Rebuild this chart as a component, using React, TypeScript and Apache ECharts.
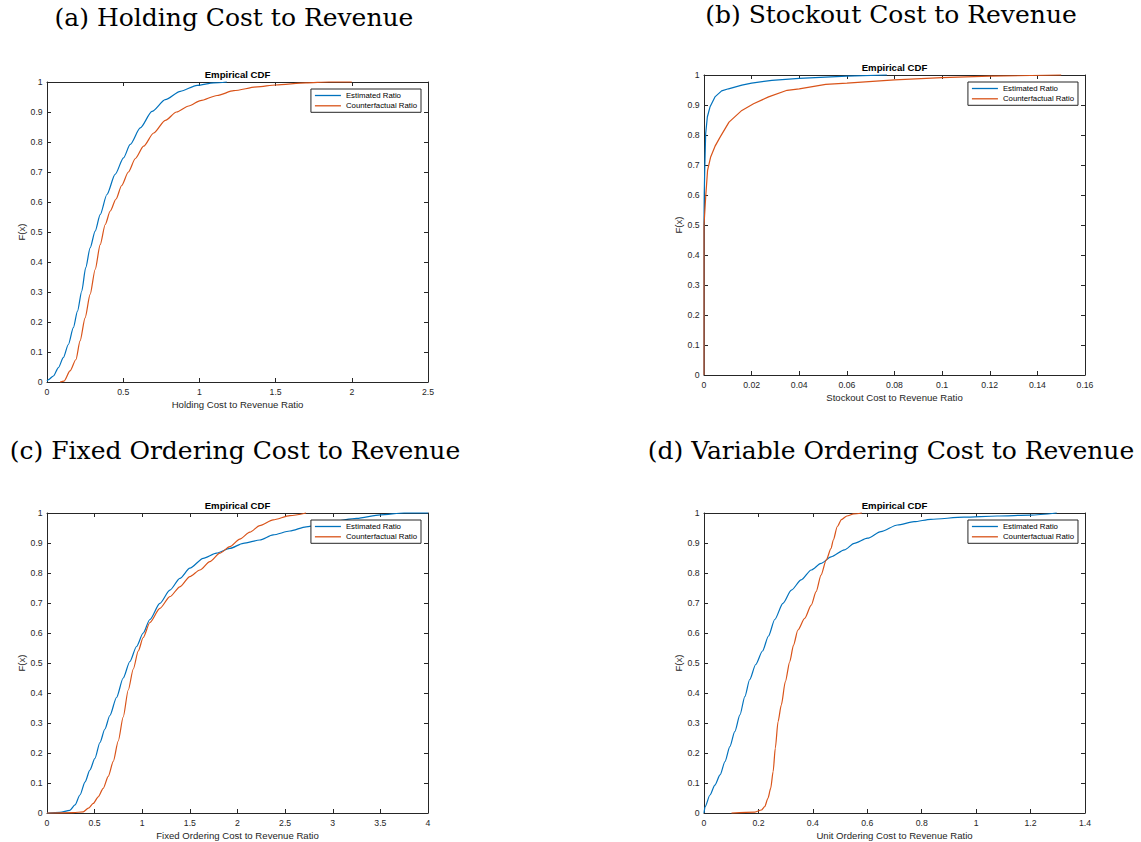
import React, { useEffect, useRef } from "react";
import * as echarts from "echarts";

// ---- Data ----
const seriesNames = ["Estimated Ratio", "Counterfactual Ratio"];
const captions = [
  "(a) Holding Cost to Revenue",
  "(b) Stockout Cost to Revenue",
  "(c) Fixed Ordering Cost to Revenue",
  "(d) Variable Ordering Cost to Revenue",
];
const xAxisNames = [
  "Holding Cost to Revenue Ratio",
  "Stockout Cost to Revenue Ratio",
  "Fixed Ordering Cost to Revenue Ratio",
  "Unit Ordering Cost to Revenue Ratio",
];
const xMaxes = [2.5, 0.16, 4, 1.4];
const xIntervals = [0.5, 0.02, 0.5, 0.2];

const holdingEstimated = [
  [0, 0.003], [0.01, 0.008], [0.042, 0.02], [0.075, 0.048], [0.107, 0.081], [0.14, 0.125],
  [0.173, 0.181], [0.2, 0.236], [0.228, 0.303], [0.254, 0.381], [0.283, 0.447], [0.316, 0.503],
  [0.349, 0.558], [0.393, 0.625], [0.447, 0.692], [0.502, 0.747], [0.546, 0.792], [0.612, 0.847],
  [0.689, 0.902], [0.776, 0.941], [0.875, 0.969], [0.985, 0.989], [1.094, 0.997], [1.18, 1.0],
];
const holdingCounterfactual = [
  [0.086, 0], [0.112, 0.003], [0.151, 0.037], [0.19, 0.075], [0.217, 0.137], [0.25, 0.214],
  [0.283, 0.292], [0.316, 0.375], [0.349, 0.458], [0.382, 0.525], [0.415, 0.57], [0.453, 0.61],
  [0.49, 0.655], [0.534, 0.7], [0.58, 0.745], [0.634, 0.786], [0.7, 0.83], [0.776, 0.872],
  [0.85, 0.9], [0.93, 0.92], [1.007, 0.938], [1.116, 0.955], [1.226, 0.971], [1.38, 0.984],
  [1.5, 0.99], [1.7, 0.997], [1.85, 1.0], [2.0, 1.0],
];
const stockoutEstimated = [
  [0, 0], [0, 0.5], [0.0001, 0.6], [0.0003, 0.682], [0.0007, 0.804], [0.0014, 0.86],
  [0.0025, 0.893], [0.0046, 0.927], [0.0074, 0.947], [0.0103, 0.954], [0.0159, 0.966],
  [0.02, 0.973], [0.0285, 0.982], [0.04, 0.989], [0.06, 0.996], [0.0768, 1.0],
];
const stockoutCounterfactual = [
  [0, 0], [0, 0.5], [0.0007, 0.593], [0.0015, 0.682], [0.0028, 0.727], [0.0046, 0.762],
  [0.0067, 0.792], [0.0105, 0.843], [0.0159, 0.882], [0.0208, 0.904], [0.0271, 0.927],
  [0.0349, 0.949], [0.04, 0.954], [0.0511, 0.969], [0.06, 0.973], [0.08, 0.984],
  [0.1, 0.991], [0.12, 0.996], [0.15, 1.0],
];
const fixedEstimated = [
  [0, 0], [0.136, 0.002], [0.24, 0.009], [0.294, 0.027], [0.346, 0.06], [0.4, 0.104],
  [0.45, 0.143], [0.503, 0.182], [0.556, 0.235], [0.608, 0.28], [0.66, 0.325], [0.73, 0.385],
  [0.8, 0.45], [0.87, 0.505], [0.94, 0.555], [1.01, 0.6], [1.08, 0.645], [1.185, 0.699],
  [1.29, 0.743], [1.395, 0.782], [1.5, 0.816], [1.64, 0.849], [1.78, 0.866], [1.92, 0.882],
  [2.06, 0.899], [2.234, 0.91], [2.374, 0.927], [2.55, 0.94], [2.72, 0.954], [3.0, 0.972],
  [3.25, 0.982], [3.5, 0.994], [3.75, 1.0], [4.0, 1.0],
];
const fixedCounterfactual = [
  [0, 0], [0.276, 0.001], [0.38, 0.004], [0.434, 0.016], [0.486, 0.032], [0.538, 0.054],
  [0.59, 0.082], [0.643, 0.122], [0.696, 0.172], [0.748, 0.24], [0.8, 0.32], [0.853, 0.41],
  [0.906, 0.48], [0.958, 0.54], [1.01, 0.585], [1.08, 0.635], [1.185, 0.682], [1.29, 0.721],
  [1.395, 0.754], [1.5, 0.788], [1.605, 0.81], [1.71, 0.838], [1.815, 0.866], [1.92, 0.888],
  [2.024, 0.913], [2.13, 0.936], [2.234, 0.958], [2.374, 0.977], [2.55, 0.991], [2.72, 1.0],
];
const unitEstimated = [
  [0, 0], [0.004, 0.021], [0.022, 0.06], [0.04, 0.093], [0.059, 0.127], [0.077, 0.171],
  [0.095, 0.221], [0.113, 0.271], [0.132, 0.327], [0.15, 0.388], [0.168, 0.445], [0.19, 0.495],
  [0.215, 0.54], [0.237, 0.59], [0.26, 0.645], [0.29, 0.699], [0.321, 0.743], [0.357, 0.777],
  [0.394, 0.81], [0.43, 0.832], [0.467, 0.854], [0.516, 0.877], [0.552, 0.899], [0.601, 0.916],
  [0.65, 0.938], [0.711, 0.96], [0.772, 0.971], [0.833, 0.979], [0.955, 0.986], [1.077, 0.99],
  [1.2, 0.993], [1.296, 1.0],
];
const unitCounterfactual = [
  [0.101, 0], [0.187, 0.003], [0.211, 0.01], [0.223, 0.021], [0.235, 0.049], [0.245, 0.082],
  [0.254, 0.138], [0.262, 0.216], [0.272, 0.304], [0.284, 0.36], [0.299, 0.438], [0.315, 0.504],
  [0.329, 0.56], [0.345, 0.61], [0.37, 0.649], [0.394, 0.693], [0.412, 0.738], [0.43, 0.793],
  [0.449, 0.843], [0.467, 0.882], [0.475, 0.91], [0.49, 0.955], [0.505, 0.978], [0.525, 0.99],
  [0.55, 0.997], [0.58, 1.0],
];
const estimatedData = [holdingEstimated, stockoutEstimated, fixedEstimated, unitEstimated];
const counterfactualData = [holdingCounterfactual, stockoutCounterfactual, fixedCounterfactual, unitCounterfactual];
const smoothing = [0.25, 0, 0.25, 0.25];

// ---- Layout ----
const grids = [
  { left: 47, top: 82 },
  { left: 704, top: 75 },
  { left: 47, top: 513 },
  { left: 704, top: 513 },
];
const PW = 381;
const PH = 300;
const captionPos = [
  { x: 234, y: 17 },
  { x: 891, y: 14 },
  { x: 235, y: 450 },
  { x: 891, y: 450 },
];

const BLUE = "#0072BD";
const ORANGE = "#D95319";
const AX = "#262626";
const SANS = "Liberation Sans, Arial, Helvetica, sans-serif";

export default function App() {
  const ref = useRef<HTMLDivElement>(null);
  useEffect(() => {
    if (!ref.current) return;
    const chart = echarts.init(ref.current, undefined, { renderer: "svg" });
    const lineStyle = { color: AX, width: 1 };
    const xAxis: any[] = [];
    const yAxis: any[] = [];
    const series: any[] = [];
    const legend: any[] = [];
    const graphic: any[] = [];
    grids.forEach((g, i) => {
      xAxis.push({
        type: "value", gridIndex: i, position: "bottom", min: 0, max: xMaxes[i], interval: xIntervals[i],
        axisLine: { show: true, onZero: false, lineStyle },
        axisTick: { show: true, inside: true, length: 4, lineStyle },
        axisLabel: { show: true, fontFamily: SANS, fontSize: 8.7, color: AX, margin: 5 },
        splitLine: { show: false },
        name: xAxisNames[i], nameLocation: "middle", nameGap: 17,
        nameTextStyle: { fontFamily: SANS, fontSize: 9.6, color: AX },
      });
      xAxis.push({
        type: "value", gridIndex: i, position: "top", min: 0, max: xMaxes[i], interval: xIntervals[i],
        axisLine: { show: true, onZero: false, lineStyle },
        axisTick: { show: true, inside: true, length: 4, lineStyle },
        axisLabel: { show: false }, splitLine: { show: false },
      });
      yAxis.push({
        type: "value", gridIndex: i, position: "left", min: 0, max: 1, interval: 0.1,
        axisLine: { show: true, onZero: false, lineStyle },
        axisTick: { show: true, inside: true, length: 4, lineStyle },
        axisLabel: { show: true, fontFamily: SANS, fontSize: 8.7, color: AX, margin: 4.3 },
        splitLine: { show: false },
        name: "F(x)", nameLocation: "middle", nameGap: 19,
        nameTextStyle: { fontFamily: SANS, fontSize: 9.6, color: AX },
      });
      yAxis.push({
        type: "value", gridIndex: i, position: "right", min: 0, max: 1, interval: 0.1,
        axisLine: { show: true, onZero: false, lineStyle },
        axisTick: { show: true, inside: true, length: 4, lineStyle },
        axisLabel: { show: false }, splitLine: { show: false },
      });
      series.push({
        type: "line", name: seriesNames[0], xAxisIndex: 2 * i, yAxisIndex: 2 * i,
        data: estimatedData[i], showSymbol: false, symbol: "none", clip: false,
        smooth: smoothing[i], smoothMonotone: "x",
        lineStyle: { color: BLUE, width: 1.2 }, itemStyle: { color: BLUE }, z: 3,
      });
      series.push({
        type: "line", name: seriesNames[1], xAxisIndex: 2 * i, yAxisIndex: 2 * i,
        data: counterfactualData[i], showSymbol: false, symbol: "none", clip: false,
        smooth: smoothing[i], smoothMonotone: "x",
        lineStyle: { color: ORANGE, width: 1.2 }, itemStyle: { color: ORANGE }, z: 4,
      });
      legend.push({
        data: seriesNames, orient: "vertical", selectedMode: false,
        right: 1141 - (g.left + PW - 7), top: g.top + 7,
        icon: "rect", itemWidth: 26, itemHeight: 1.3, itemGap: 1.3,
        padding: [2, 4, 2, 4], borderColor: AX, borderWidth: 1, backgroundColor: "#fff",
        textStyle: { fontFamily: SANS, fontSize: 7.8, color: "#000", lineHeight: 9 },
        z: 10,
      });
      graphic.push({
        type: "text", x: g.left + PW / 2, y: g.top - 7.5, silent: true,
        style: { text: "Empirical CDF", font: `bold 9.6px ${SANS}`, fill: "#000", textAlign: "center", textVerticalAlign: "middle" },
      });
      graphic.push({
        type: "text", x: captionPos[i].x, y: captionPos[i].y, silent: true,
        style: { text: captions[i], font: '25px "DejaVu Serif", serif', fill: "#000", textAlign: "center", textVerticalAlign: "middle" },
      });
    });
    chart.setOption({
      animation: false,
      backgroundColor: "#fff",
      grid: grids.map((g) => ({ left: g.left, top: g.top, width: PW, height: PH, containLabel: false })),
      xAxis, yAxis, series, legend, graphic,
    });
    return () => chart.dispose();
  }, []);
  return <div ref={ref} style={{ position: "absolute", left: 0, top: 0, width: 1141, height: 842, background: "#fff" }} />;
}
